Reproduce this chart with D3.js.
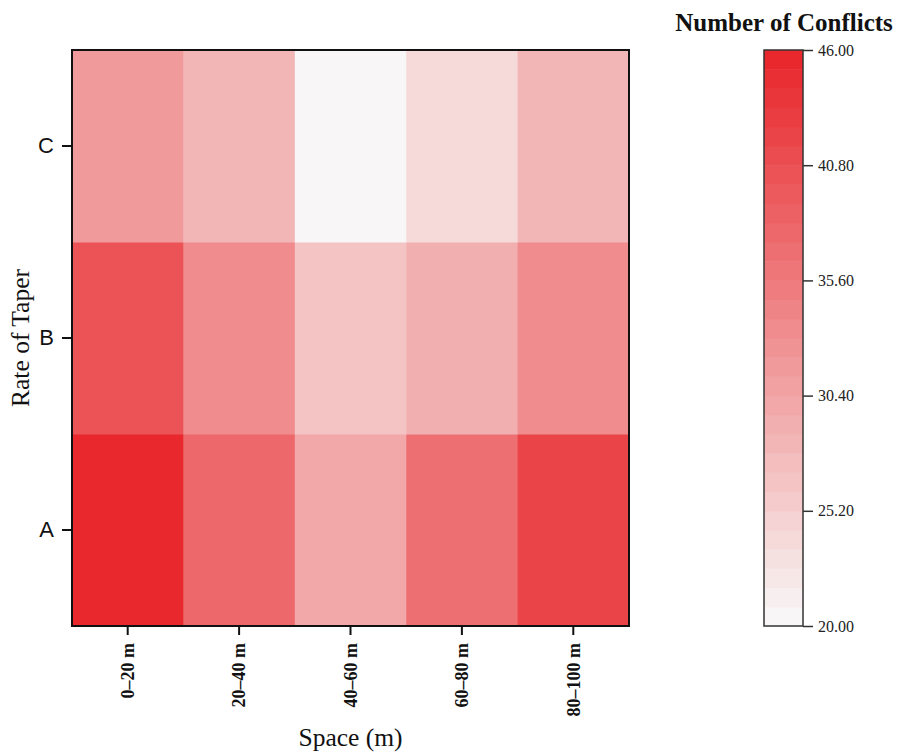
<!DOCTYPE html>
<html>
<head>
<meta charset="utf-8">
<script src="https://cdn.jsdelivr.net/npm/d3@7"></script>
<style>
  html, body { margin: 0; padding: 0; background: #ffffff; }
</style>
</head>
<body>
<div id="chart"></div>
<script>
// heatmap: number of conflicts by space and rate of taper

const spaces = ["0–20 m", "20–40 m", "40–60 m", "60–80 m", "80–100 m"];
const tapers = ["A", "B", "C"];

// one row per taper, columns follow spaces
const conflictsA = [46, 37.5, 29.8, 37, 42.5];
const conflictsB = [40.5, 33.5, 26.5, 29.3, 33.8];
const conflictsC = [31.5, 27.8, 20, 23.5, 27.8];

const colorTicks = [20, 25.2, 30.4, 35.6, 40.8, 46];

function drawHeatmap() {
  const width = 898;
  const height = 752;
  const margin = { top: 50, left: 72 };
  const plotW = 557;
  const plotH = 576;

  const rows = [conflictsA, conflictsB, conflictsC];
  const cells = [];
  tapers.forEach(function(t, i) {
    spaces.forEach(function(s, j) {
      cells.push({ taper: t, space: s, value: rows[i][j] });
    });
  });

  const nBands = 30;
  const interp = d3.interpolateRgb("#f8f6f6", "#e8282c");
  const bandColors = d3.range(nBands).map(function(i) { return interp(i / (nBands - 1)); });
  const color = d3.scaleQuantize().domain([20, 46]).range(bandColors);

  const serif = '"Liberation Serif", "Times New Roman", serif';
  const sans = '"Liberation Sans", Arial, sans-serif';

  const svg = d3.select("#chart")
    .append("svg")
    .attr("width", width)
    .attr("height", height);

  const g = svg.append("g")
    .attr("transform", "translate(" + margin.left + "," + margin.top + ")");

  const x = d3.scaleBand().domain(spaces).range([0, plotW]);
  const y = d3.scaleBand().domain(tapers.slice().reverse()).range([0, plotH]);

  g.append("g")
    .selectAll("rect")
    .data(cells)
    .join("rect")
    .attr("x", function(d) { return x(d.space); })
    .attr("y", function(d) { return y(d.taper); })
    .attr("width", x.bandwidth() + 0.5)
    .attr("height", y.bandwidth() + 0.5)
    .attr("fill", function(d) { return color(d.value); });

  g.append("rect")
    .attr("width", plotW)
    .attr("height", plotH)
    .attr("fill", "none")
    .attr("stroke", "#111")
    .attr("stroke-width", 2);

  // x axis
  const xAxis = g.append("g")
    .attr("transform", "translate(0," + plotH + ")")
    .call(d3.axisBottom(x).tickSize(9).tickPadding(8));
  xAxis.select(".domain").remove();
  xAxis.selectAll("line").attr("stroke", "#111").attr("stroke-width", 2);
  xAxis.selectAll("text")
    .attr("transform", "rotate(-90)")
    .attr("x", -17)
    .attr("y", 0)
    .attr("dy", "0.35em")
    .attr("text-anchor", "end")
    .attr("font-family", serif)
    .attr("font-weight", "bold")
    .attr("font-size", 18)
    .attr("fill", "#111");

  // y axis
  const yAxis = g.append("g")
    .call(d3.axisLeft(y).tickSize(10).tickPadding(8));
  yAxis.select(".domain").remove();
  yAxis.selectAll("line").attr("stroke", "#111").attr("stroke-width", 2);
  yAxis.selectAll("text")
    .attr("font-family", sans)
    .attr("font-size", 22)
    .attr("fill", "#111");

  svg.append("text")
    .attr("x", margin.left + plotW / 2)
    .attr("y", 746)
    .attr("text-anchor", "middle")
    .attr("font-family", serif)
    .attr("font-size", 25.5)
    .attr("fill", "#111")
    .text("Space (m)");

  svg.append("text")
    .attr("transform", "translate(20," + (margin.top + plotH / 2) + ") rotate(-90)")
    .attr("text-anchor", "middle")
    .attr("dy", "0.35em")
    .attr("font-family", serif)
    .attr("font-size", 25.5)
    .attr("fill", "#111")
    .text("Rate of Taper");

  // colour bar
  const barX = 764;
  const barW = 39;
  const cy = d3.scaleLinear().domain([20, 46]).range([margin.top + plotH, margin.top]);
  const bandH = (cy(20) - cy(46)) / nBands;

  svg.append("g")
    .selectAll("rect")
    .data(bandColors)
    .join("rect")
    .attr("x", barX)
    .attr("y", function(d, i) { return cy(20) - (i + 1) * bandH; })
    .attr("width", barW)
    .attr("height", bandH + 0.5)
    .attr("fill", function(d) { return d; });

  svg.append("rect")
    .attr("x", barX)
    .attr("y", cy(46))
    .attr("width", barW)
    .attr("height", cy(20) - cy(46))
    .attr("fill", "none")
    .attr("stroke", "#333")
    .attr("stroke-width", 1.5);

  const cAxis = svg.append("g")
    .attr("transform", "translate(" + (barX + barW) + ",0)")
    .call(d3.axisRight(cy).tickValues(colorTicks).tickSize(10).tickPadding(5)
      .tickFormat(d3.format(".2f")));
  cAxis.select(".domain").remove();
  cAxis.selectAll("line").attr("stroke", "#333").attr("stroke-width", 1.5);
  cAxis.selectAll("text")
    .attr("font-family", serif)
    .attr("font-size", 16)
    .attr("fill", "#222");

  svg.append("text")
    .attr("x", 784)
    .attr("y", 31)
    .attr("text-anchor", "middle")
    .attr("font-family", serif)
    .attr("font-weight", "bold")
    .attr("font-size", 25)
    .attr("fill", "#111")
    .text("Number of Conflicts");
}

drawHeatmap();
</script>
</body>
</html>
